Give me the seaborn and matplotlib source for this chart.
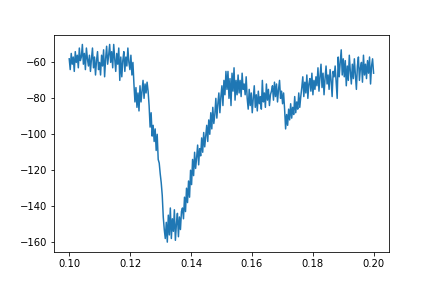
import numpy as np
import matplotlib
matplotlib.use("Agg")
import matplotlib.pyplot as plt
import seaborn as sns

plateau = [-58, -64, -55, -61, -57, -65, -54, -60, -56, -63,
           -52, -59, -57, -50, -61, -55, -64, -52, -58, -62,
           -56, -65, -58, -52, -63, -57, -67, -59, -54, -64,
           -60, -67, -56, -62, -53, -68, -58, -51, -61, -56,
           -50, -60, -54, -63, -50, -58, -65, -55, -61, -52,
           -70, -57, -68, -59, -54, -65, -57, -62, -52, -60,
           -64, -56, -67, -60]
first_drop = [-72, -82, -74, -85, -77, -87, -73, -82, -76,
              -70, -80, -72, -77, -71, -76]
descent = [-84, -96, -88, -101, -95, -104, -97, -109, -100, -114,
           -116, -122, -127, -134, -146, -153, -158]
bottom = [-149, -160, -145, -156, -141, -158, -147, -154, -142, -159,
          -150, -144, -157, -146, -153, -143]
rise = [-141, -147, -135, -143, -130, -138, -126, -135, -120, -128,
        -114, -123, -110, -119, -113, -106, -117, -108, -112, -102,
        -110, -99, -107, -101, -95, -104, -92, -100, -88, -97,
        -85, -94, -89, -80, -91, -83, -77, -88, -79, -73,
        -84, -70, -78, -65, -75]
middle = [-65, -80, -69, -84, -66, -76, -63, -81, -70, -78,
          -67, -77, -70, -79, -66, -75, -72, -78, -68,
          -80, -86, -75, -84, -77, -88, -80, -73, -85, -78,
          -87, -76, -83, -79, -86, -70, -82, -77, -85, -72,
          -81, -75, -84, -78, -76,
          -73, -81, -71, -79, -72, -82, -75, -70, -80, -76,
          -83, -77, -86]
second_dip = [-97, -89, -95, -86, -92, -83, -91, -85, -89, -79,
              -88, -82, -86, -77, -85, -79]
tail = [-74, -68, -79, -71, -77, -67, -80, -72, -69, -76,
        -66, -78, -70, -75, -68,
        -73, -63, -76, -68, -61, -74, -66, -78, -69, -62,
        -72, -67, -75, -64, -70, -79, -65, -68,
        -62, -71, -80, -57, -68, -60, -53, -67, -58,
        -68, -59, -73, -62, -70, -56, -65, -72, -61, -69,
        -58, -67, -75, -62, -57, -70, -63, -60, -71, -56,
        -67, -61, -69, -59, -66, -57, -72, -62, -58, -66]

y = np.array(plateau + first_drop + descent + bottom + rise + middle + second_dip + tail, dtype=float)
x = np.linspace(0.1, 0.2, len(y))

fig, ax = plt.subplots(figsize=(6, 4), dpi=72)
fig.subplots_adjust(left=0.125, right=0.9, top=0.88, bottom=0.125)
sns.lineplot(x=x, y=y, ax=ax, color="#1f77b4", linewidth=1.5, estimator=None, sort=False)
ax.set_xticks([0.10, 0.12, 0.14, 0.16, 0.18, 0.20])
ax.set_xticklabels(["0.10", "0.12", "0.14", "0.16", "0.18", "0.20"])
fig.savefig("out.png", dpi=72)
